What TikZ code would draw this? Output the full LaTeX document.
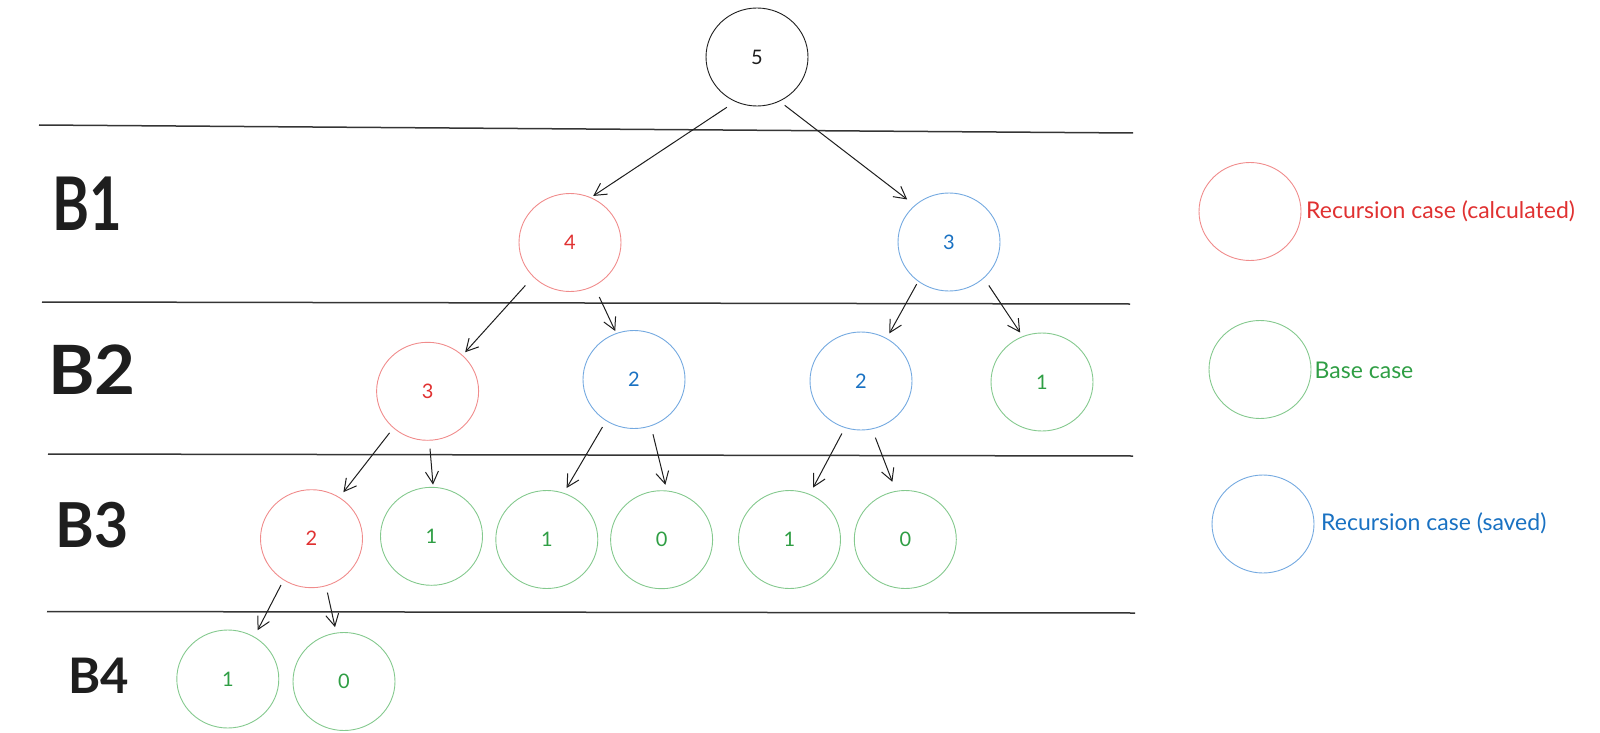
\documentclass[tikz,border=0pt]{standalone}
\usepackage{fontspec}
\setmainfont{Lato}
\usetikzlibrary{shapes.geometric,arrows.meta}
\definecolor{redline}{HTML}{F08C8C}
\definecolor{redtext}{HTML}{E03131}
\definecolor{blueline}{HTML}{74A9E0}
\definecolor{bluetext}{HTML}{1971C2}
\definecolor{greenline}{HTML}{84C98E}
\definecolor{greentext}{HTML}{2F9E44}
\definecolor{inkline}{HTML}{1E1E1E}
\tikzset{
  circ/.style={ellipse, draw, line width=0.9pt, minimum width=102pt, minimum height=98pt, inner sep=0pt,
    font=\fontsize{20}{20}\selectfont},
  blackc/.style={circ, draw=inkline, text=inkline},
  redc/.style={circ, draw=redline, text=redtext},
  bluec/.style={circ, draw=blueline, text=bluetext},
  greenc/.style={circ, draw=greenline, text=greentext},
  sep/.style={draw=inkline!90, line width=1.5pt},
  arr/.style={draw=inkline, line width=1pt, -{Straight Barb[length=12pt,width=13pt]}},
  blabel/.style={anchor=west, inner sep=0pt, text=inkline},
  legtext/.style={anchor=west, inner sep=0pt, font=\fontsize{23}{23}\selectfont},
}
\begin{document}
\begin{tikzpicture}[x=1pt,y=-1pt]
\useasboundingbox (0,0) rectangle (1600,733);
% separators
\coordinate (l1a) at (39,125); \coordinate (l1b) at (1133,133);
\coordinate (l2a) at (42,302); \coordinate (l2b) at (1130,304);
\coordinate (l3a) at (48,454); \coordinate (l3b) at (1133,456);
\coordinate (l4a) at (47,611.5); \coordinate (l4b) at (1135,613);
\draw[sep] (l1a) -- (l1b);
\draw[sep] (l2a) -- (l2b);
\draw[sep] (l3a) -- (l3b);
\draw[sep] (l4a) -- (l4b);
% level labels
\node[blabel, font=\fontsize{74}{74}\selectfont\bfseries] (b1) at (52,204) {\scalebox{0.76}[1]{B1}};
\node[blabel, font=\fontsize{68}{68}\selectfont\bfseries] (b2) at (48,370) {\scalebox{1.04}[1]{B2}};
\node[blabel, font=\fontsize{62}{62}\selectfont\bfseries] (b3) at (55,525) {\scalebox{0.95}[1]{B3}};
\node[blabel, font=\fontsize{49}{49}\selectfont\bfseries] (b4) at (68,676) {B4};
% tree nodes
\node[blackc] (n5) at (757,57) {5};
\node[redc] (n4) at (570,242.5) {4};
\node[bluec] (n3a) at (949,242) {3};
\node[redc] (n3b) at (427.6,391.3) {3};
\node[bluec] (n2a) at (634,379.5) {2};
\node[bluec] (n2b) at (861,381) {2};
\node[greenc] (n1a) at (1042,382) {1};
\node[redc] (n2c) at (311.5,538.7) {2};
\node[greenc] (n1b) at (431.5,536.3) {1};
\node[greenc] (n1c) at (546.8,539.5) {1};
\node[greenc] (n0a) at (661.6,539.7) {0};
\node[greenc] (n1d) at (789.5,539.5) {1};
\node[greenc] (n0b) at (905.3,539.5) {0};
\node[greenc] (n1e) at (227.8,679) {1};
\node[greenc] (n0c) at (344,681.5) {0};
% arrows
\draw[arr, shorten <=10pt, shorten >=2.6pt] (n5.244) -- (n4.65);
\draw[arr, shorten <=6.4pt, shorten >=9.4pt] (n5.297.5) -- (n3a.133.6);
\draw[arr, shorten <=11.5pt, shorten >=3.8pt] (n4.223.7) -- (n3b.46.9);
\draw[arr, shorten <=12pt, shorten >=2.3pt] (n4.299) -- (n2a.111.9);
\draw[arr, shorten <=3pt, shorten >=5.5pt] (n3a.232.7) -- (n2b.59.9);
\draw[arr, shorten <=8.7pt, shorten >=4.4pt] (n3a.314.3) -- (n1a.113.2);
\draw[arr, shorten <=6pt, shorten >=6.4pt] (n3b.227.8) -- (n2c.56.5);
\draw[arr, shorten <=8pt, shorten >=2.3pt] (n3b.272.4) -- (n1b.88.4);
\draw[arr, shorten <=7pt, shorten >=5.6pt] (n2a.236.4) -- (n1c.70.9);
\draw[arr, shorten <=8.3pt, shorten >=5.9pt] (n2a.290.9) -- (n0a.84.7);
\draw[arr, shorten <=6.3pt, shorten >=7.4pt] (n2b.251.3) -- (n1d.66.9);
\draw[arr, shorten <=9pt, shorten >=9.7pt] (n2b.283.7) -- (n0b.101.6);
\draw[arr, shorten <=5.5pt, shorten >=7.2pt] (n2c.236.5) -- (n1e.58.9);
\draw[arr, shorten <=6.6pt, shorten >=5.6pt] (n2c.287.5) -- (n0c.99.6);
% legend
\node[redc] (lr) at (1250,211.5) {};
\node[greenc] (lg) at (1260,369.5) {};
\node[bluec] (lb) at (1263,524) {};
\node[legtext, text=redtext] (tr) at (1306,211) {Recursion case (calculated)};
\node[legtext, text=greentext] (tg) at (1314.5,370) {Base case};
\node[legtext, text=bluetext] (tb) at (1321,523) {Recursion case (saved)};
\end{tikzpicture}
\end{document}
